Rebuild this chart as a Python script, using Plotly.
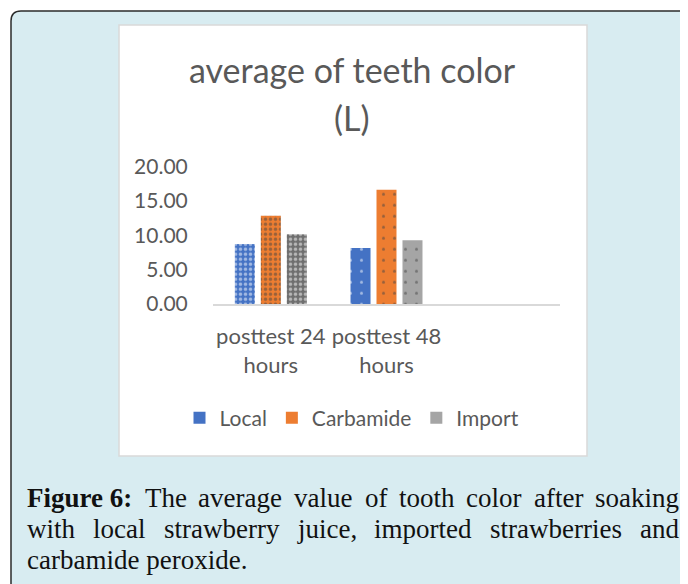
import plotly.graph_objects as go

# ---- data ----
categories = ["posttest 24 hours", "posttest 48 hours"]
tick_labels = ["posttest 24<br>hours", "posttest 48<br>hours"]
local = [8.75, 8.15]
carbamide = [12.85, 16.65]
imported = [10.15, 9.30]
y_ticks = [0, 5, 10, 15, 20]

series_names = ["Local", "Carbamide", "Import"]
legend_colors = ["#4472C4", "#ED7D31", "#A5A5A5"]
bar_colors = [["#4472C4", "#4472C4"], ["#ED7D31", "#ED7D31"], ["#6E6E6E", "#A5A5A5"]]

caption_bold = "Figure 6:"
caption_lines = [
    "The average value of tooth color after soaking",
    "with local strawberry juice, imported strawberries and",
    "carbamide peroxide.",
]

W, H = 688, 584
OFF = 8  # page body margin
def px(x):
    return (x - OFF) / W
def py(y):
    return 1 - (y - OFF) / H

fig = go.Figure()

for name, vals, cols in zip(series_names, [local, carbamide, imported], bar_colors):
    fig.add_trace(go.Bar(
        x=categories, y=vals, name=name, showlegend=False,
        marker=dict(
            color=cols, line=dict(width=0),
            pattern=dict(shape=[".", "."], size=[5, 11], solidity=[0.4, 0.06],
                         fgcolor="white", fillmode="overlay"),
        ),
    ))

for name, col in zip(series_names, legend_colors):
    fig.add_trace(go.Scatter(
        x=[None], y=[None], mode="markers", name=name,
        marker=dict(symbol="square", size=12, color=col),
    ))

shapes = [
    dict(type="path", xref="paper", yref="paper", layer="below",
         path=(f"M {px(11)},{py(620)} L {px(11)},{py(21)} Q {px(11)},{py(11)} {px(21)},{py(11)} "
               f"L {px(720)},{py(11)} L {px(720)},{py(620)} Z"),
         fillcolor="#D8ECF1", line=dict(color="#2b2b2b", width=1.5)),
    dict(type="rect", xref="paper", yref="paper", layer="below",
         x0=px(119), x1=px(587), y0=py(456), y1=py(25),
         fillcolor="white", line=dict(color="#D9D9D9", width=1.5)),
]

title_font = dict(family="Lato", size=34, color="#595959")
annotations = [
    dict(text="average of teeth color", x=px(352), y=py(69), xref="paper", yref="paper",
         showarrow=False, xanchor="center", yanchor="middle", font=title_font),
    dict(text="(L)", x=px(352), y=py(117), xref="paper", yref="paper",
         showarrow=False, xanchor="center", yanchor="middle", font=title_font),
]

# Times-compatible advance widths (per 1000 em) for justified caption layout
ROMAN = dict(zip("abcdefghijklmnopqrstuvwxyz",
                 [444, 500, 444, 500, 444, 333, 500, 500, 278, 278, 500, 278, 778,
                  500, 500, 500, 500, 333, 389, 278, 500, 500, 722, 500, 500, 444]))
ROMAN.update({"T": 611, ",": 250, ".": 250, " ": 250})
BOLD = {"F": 611, "i": 278, "g": 500, "u": 556, "r": 444, "e": 444, " ": 250, "6": 500, ":": 333}

CAP_SIZE = 27
def wwidth(word, table):
    return sum(table.get(c, 500) for c in word) / 1000 * CAP_SIZE

cap_font = dict(family="Liberation Serif", size=CAP_SIZE, color="#111111")
LEFT, RIGHT = 27, 679
line_y = [498, 529, 560]
for i, (text, yc) in enumerate(zip(caption_lines, line_y)):
    words = [(w, ROMAN) for w in text.split(" ")]
    if i == 0:
        words = [(caption_bold, BOLD)] + words
    if i < 2:
        widths = [wwidth(w, t) for w, t in words]
        gap = (RIGHT - LEFT - sum(widths)) / (len(words) - 1)
        x = LEFT
        for (w, t), wd in zip(words, widths):
            label = f"<b>{w}</b>" if t is BOLD else w
            annotations.append(dict(text=label, x=px(x - 2), y=py(yc), xref="paper", yref="paper",
                                    showarrow=False, xanchor="left", yanchor="middle", font=cap_font))
            x += wd + gap
    else:
        annotations.append(dict(text=text, x=px(LEFT - 2), y=py(yc), xref="paper", yref="paper",
                                showarrow=False, xanchor="left", yanchor="middle", font=cap_font))

fig.update_layout(
    width=W, height=H,
    margin=dict(l=0, r=0, t=0, b=0, autoexpand=False),
    paper_bgcolor="white", plot_bgcolor="rgba(0,0,0,0)",
    barmode="group", bargap=0.326, bargroupgap=0.23,
    shapes=shapes, annotations=annotations,
    legend=dict(orientation="h", x=px(352), xanchor="center", y=py(418), yanchor="middle",
                font=dict(family="Lato", size=21, color="#595959"), itemwidth=30,
                bgcolor="rgba(0,0,0,0)"),
    xaxis=dict(domain=[px(213), px(560)], type="category", range=[-0.5, 2.5],
               tickvals=categories, ticktext=tick_labels, automargin=False,
               showline=True, linecolor="#D9D9D9", linewidth=1.5,
               ticks="outside", ticklen=12, tickcolor="rgba(0,0,0,0)",
               showgrid=False, tickfont=dict(family="Lato", size=22, color="#595959")),
    yaxis=dict(domain=[py(304), py(166.7)], range=[0, 20], tickvals=y_ticks, automargin=False,
               tickformat=".2f", showgrid=False, zeroline=False, showline=False,
               ticks="outside", ticklen=20, tickcolor="rgba(0,0,0,0)",
               tickfont=dict(family="Lato", size=21, color="#595959")),
)

fig.write_html("out.html")
